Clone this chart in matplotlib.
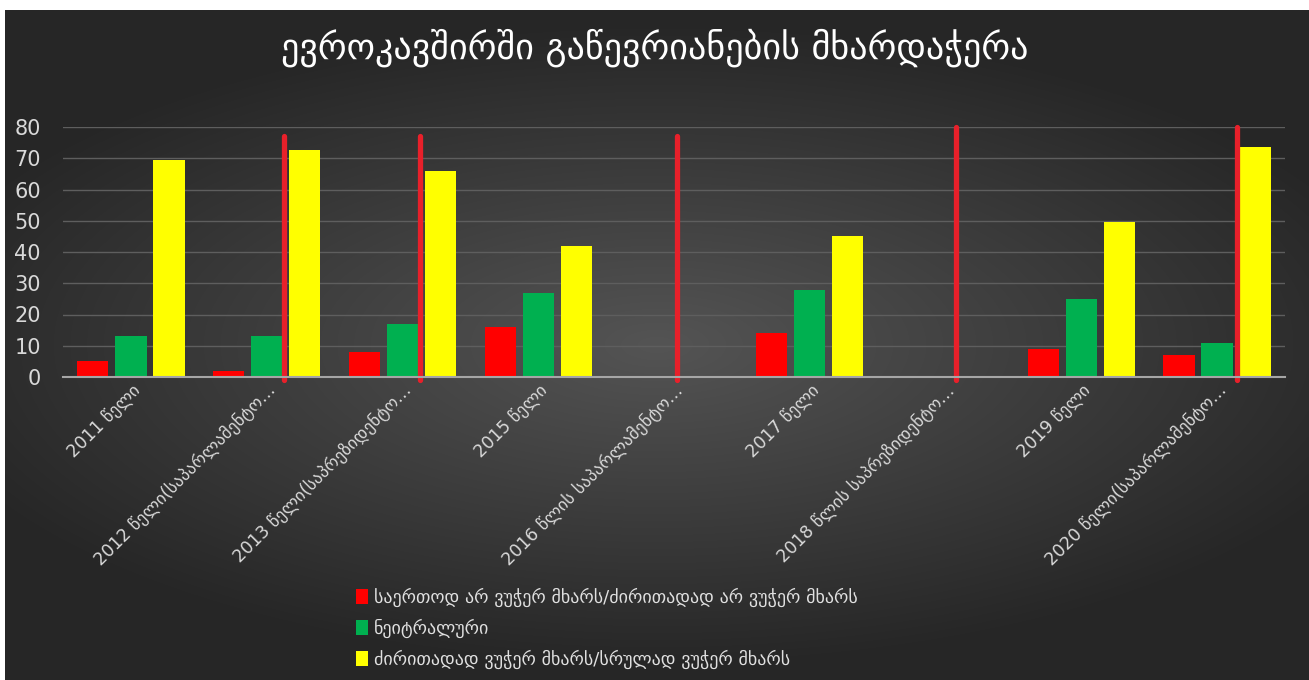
import numpy as np
import matplotlib
matplotlib.use("Agg")
import matplotlib.pyplot as plt
from matplotlib.patches import Patch

plt.rcParams['font.family'] = ['DejaVu Sans']

title = "ევროკავშირში გაწევრიანების მხარდაჭერა"
categories = ["2011 წელი",
              "2012 წელი(საპარლამენტო…",
              "2013 წელი(საპრეზიდენტო…",
              "2015 წელი",
              "2016 წლის საპარლამენტო…",
              "2017 წელი",
              "2018 წლის საპრეზიდენტო…",
              "2019 წელი",
              "2020 წელი(საპარლამენტო…"]
series_names = ["საერთოდ არ ვუჭერ მხარს/ძირითადად არ ვუჭერ მხარს",
                "ნეიტრალური",
                "ძირითადად ვუჭერ მხარს/სრულად ვუჭერ მხარს"]
against = [5, 2, 8, 16, np.nan, 14, np.nan, 9, 7]
neutral = [13, 13, 17, 27, np.nan, 28, np.nan, 25, 11]
support = [69.5, 72.5, 66, 42, np.nan, 45, np.nan, 49.5, 73.5]
colors = ["#ff0000", "#00b050", "#ffff00"]

# hand drawn red marks on election years
election_idx = [1, 2, 4, 6, 8]
election_shift = [0.13, 0.13, 0.02, 0.08, 0.15]
election_top = [77, 77, 77, 80, 80]

fig = plt.figure(figsize=(13.09, 6.8), dpi=100)
fig.patch.set_facecolor("white")

# dark radial background
bg = fig.add_axes([5/1309, 0, 1304/1309, 670/680], zorder=-10)
yy, xx = np.mgrid[-1:1:300j, -1:1:600j]
r = np.sqrt((xx*0.9)**2 + (yy*1.1)**2)
shade = np.clip(0.33 - 0.17*r, 0.15, 0.33)
bg.imshow(np.dstack([shade]*3), aspect="auto", extent=[0, 1, 0, 1], interpolation="bilinear")
bg.set_axis_off()

ax = fig.add_axes([63/1309, 1-377/680, 1222/1309, 250/680])
ax.set_facecolor("none")
x = np.arange(len(categories))
w = 0.23
for k, (vals, c, n) in enumerate(zip([against, neutral, support], colors, series_names)):
    ax.bar(x + (k-1)*0.28, vals, w, color=c, label=n, zorder=3)

for i, s, t in zip(election_idx, election_shift, election_top):
    ax.plot([i+s, i+s], [-1, t], color="#e8202a", lw=3.8, solid_capstyle="round",
            zorder=4, clip_on=False)

ax.set_xlim(-0.5, len(categories)-0.5)
ax.set_ylim(0, 80)
ax.set_yticks(range(0, 81, 10))
ax.grid(axis="y", color="#5e5e5e", lw=1, zorder=0)
for sp in ["top", "right", "left"]:
    ax.spines[sp].set_visible(False)
ax.spines["bottom"].set_color("#a6a6a6")
ax.spines["bottom"].set_linewidth(1.5)
ax.spines["bottom"].set_zorder(5)
ax.tick_params(length=0, colors="#d9d9d9", labelsize=15)
ax.tick_params(axis="y", pad=16)
ax.tick_params(axis="x", pad=3)
ax.set_xticks(x)
ax.set_xticklabels(categories, rotation=45, ha="right", rotation_mode="anchor",
                   fontsize=12.5, color="#d9d9d9")

fig.text(0.5, 1-48/680, title, ha="center", va="center", fontsize=26, color="white")

handles = [Patch(facecolor=c) for c in colors]
fig.legend(handles, series_names, loc="upper left", bbox_to_anchor=(352/1309, 1-584/680),
           frameon=False, fontsize=13, labelcolor="#e0e0e0", handlelength=0.7,
           handleheight=0.9, handletextpad=0.3, labelspacing=0.65,
           borderaxespad=0, borderpad=0.2)

fig.savefig("out.png", dpi=100)
